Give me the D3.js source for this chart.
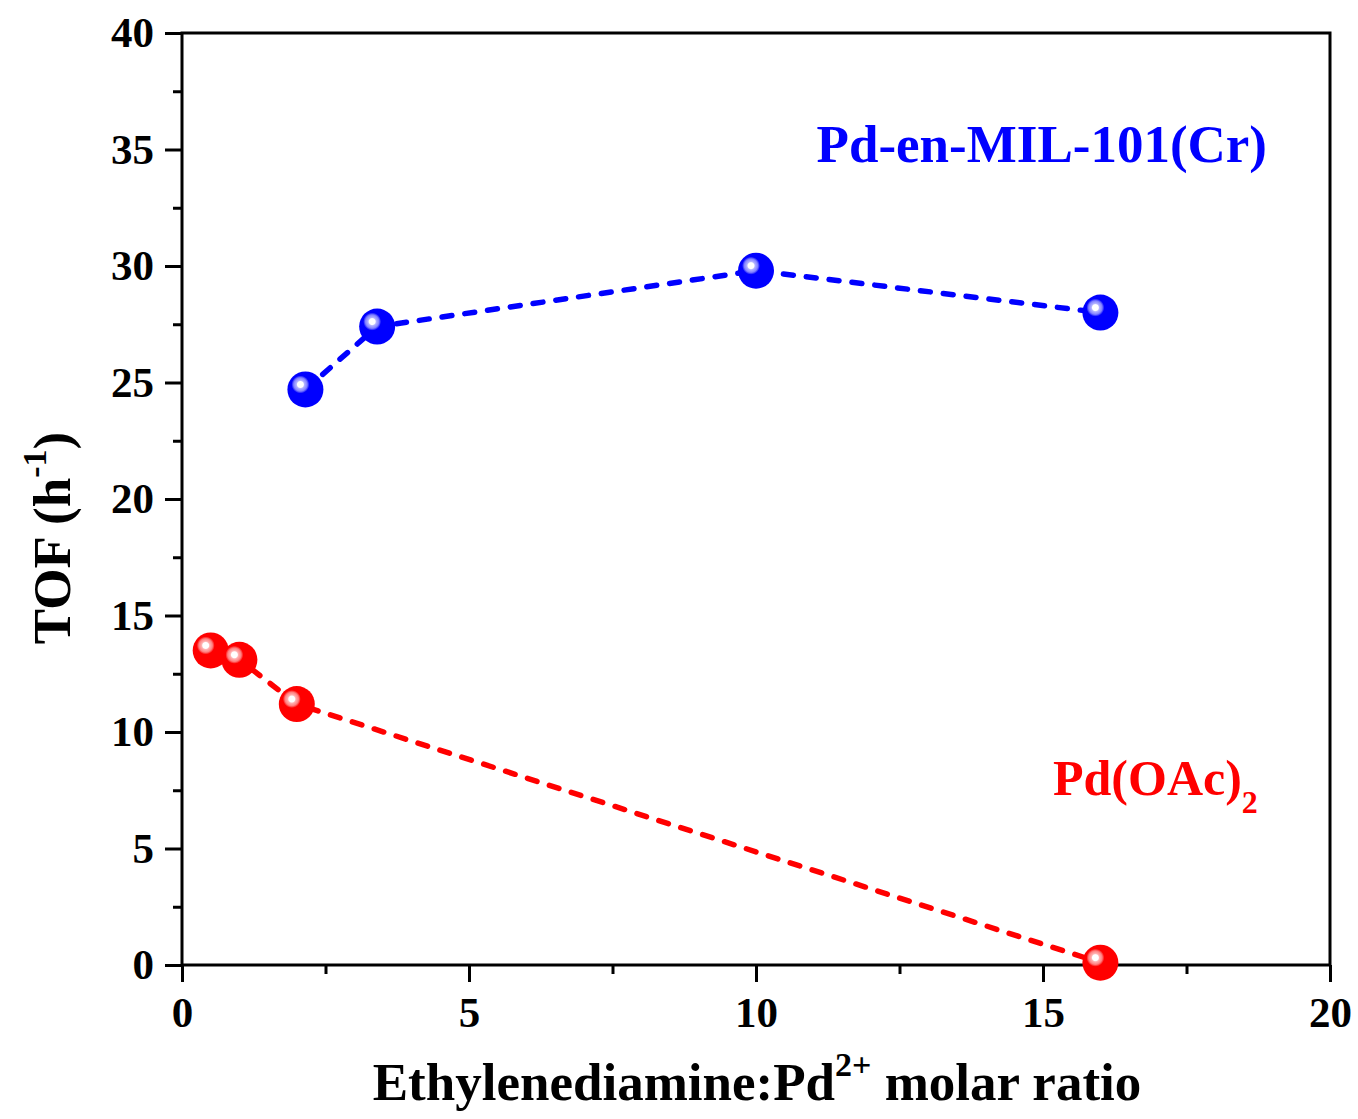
<!DOCTYPE html>
<html>
<head>
<meta charset="utf-8">
<script src="https://cdn.jsdelivr.net/npm/d3@7.9.0/dist/d3.min.js"></script>
<style>
  body { margin: 0; background: #fff; }
  svg { display: block; font-family: "Liberation Serif", "Times New Roman", serif; font-weight: bold; }
</style>
</head>
<body>
<svg id="chart" width="1358" height="1119"></svg>
<script>
// data
const blueX = [2.15, 3.4, 10, 16];
const blueY = [24.7, 27.4, 29.8, 28.0];
const redX = [0.5, 1.0, 2.0, 16];
const redY = [13.5, 13.1, 11.2, 0.1];
const xTicks = [0, 5, 10, 15, 20];
const yTicks = [0, 5, 10, 15, 20, 25, 30, 35, 40];

const svg = d3.select('#chart');
const plotL = 182, plotR = 1330, plotT = 33, plotB = 965;

const x = d3.scaleLinear().domain([0, 20]).range([plotL, plotR]);
const y = d3.scaleLinear().domain([0, 40]).range([plotB, plotT]);

// gradients for the highlight spot on each ball
const defs = svg.append('defs');
function spotGradient(id, color) {
  let g = defs.append('radialGradient').attr('id', id);
  g.append('stop').attr('offset', '0%').attr('stop-color', '#fff');
  g.append('stop').attr('offset', '33%').attr('stop-color', '#fff');
  g.append('stop').attr('offset', '45%').attr('stop-color', d3.interpolateRgb('#fff', color)(0.3));
  g.append('stop').attr('offset', '75%').attr('stop-color', d3.interpolateRgb('#fff', color)(0.5));
  g.append('stop').attr('offset', '100%').attr('stop-color', color);
}
spotGradient('gBlue', '#0000ff');
spotGradient('gRed', '#ff0000');

// axes
const xAxis = d3.axisBottom(x).tickValues(xTicks).tickSize(17).tickPadding(14).tickFormat(d3.format('d'));
const xMinor = d3.axisBottom(x).tickValues(d3.range(2.5, 20, 5)).tickSize(9).tickFormat('');
const yAxis = d3.axisLeft(y).tickValues(yTicks).tickSize(17).tickPadding(11).tickFormat(d3.format('d'));
const yMinor = d3.axisLeft(y).tickValues(d3.range(2.5, 40, 5)).tickSize(9).tickFormat('');

function styleAxis(g) {
  g.select('.domain').remove();
  g.selectAll('line').attr('stroke', '#000').attr('stroke-width', 3);
  g.selectAll('text').attr('fill', '#000').style('font-size', '43px').style('font-weight', 'bold')
    .style('font-family', '"Liberation Serif", serif');
}

svg.append('g').attr('transform', `translate(0,${plotB})`).call(xAxis).call(styleAxis);
svg.append('g').attr('transform', `translate(0,${plotB})`).call(xMinor).call(styleAxis);
svg.append('g').attr('transform', `translate(${plotL},0)`).call(yAxis).call(styleAxis);
svg.append('g').attr('transform', `translate(${plotL},0)`).call(yMinor).call(styleAxis);

// frame
svg.append('rect')
  .attr('x', plotL).attr('y', plotT)
  .attr('width', plotR - plotL).attr('height', plotB - plotT)
  .attr('fill', 'none').attr('stroke', '#000').attr('stroke-width', 3);

// series
const line = d3.line().x((d) => x(d[0])).y((d) => y(d[1]));

function drawSeries(xs, ys, color, grad) {
  let pts = xs.map((v, i) => [v, ys[i]]);
  svg.append('path')
    .attr('d', line(pts))
    .attr('fill', 'none')
    .attr('stroke', color)
    .attr('stroke-width', 5.5)
    .attr('stroke-linecap', 'round')
    .attr('stroke-dasharray', '10 13');
  let balls = svg.append('g').selectAll('g').data(pts).join('g');
  balls.append('circle')
    .attr('cx', (d) => x(d[0]))
    .attr('cy', (d) => y(d[1]))
    .attr('r', 18)
    .attr('fill', color);
  balls.append('circle')
    .attr('cx', (d) => x(d[0]) - 5)
    .attr('cy', (d) => y(d[1]) - 5)
    .attr('r', 9)
    .attr('fill', `url(#${grad})`);
}
drawSeries(blueX, blueY, '#0000ff', 'gBlue');
drawSeries(redX, redY, '#ff0000', 'gRed');

// labels
svg.append('text')
  .attr('x', 1267).attr('y', 162)
  .attr('text-anchor', 'end')
  .attr('fill', '#0000ff')
  .style('font-size', '53px')
  .text('Pd-en-MIL-101(Cr)');

const pdLabel = svg.append('text')
  .attr('x', 1053).attr('y', 795)
  .attr('fill', '#ff0000')
  .style('font-size', '50px');
pdLabel.append('tspan').text('Pd(OAc)');
pdLabel.append('tspan').attr('dy', 18).style('font-size', '32px').text('2');

// axis titles
const xt = svg.append('text')
  .attr('x', 757).attr('y', 1100)
  .attr('text-anchor', 'middle')
  .attr('fill', '#000')
  .style('font-size', '53px');
xt.append('tspan').text('Ethylenediamine:Pd');
xt.append('tspan').attr('dy', -24).style('font-size', '34px').text('2+');
xt.append('tspan').attr('dy', 24).text(' molar ratio');

const yt = svg.append('text')
  .attr('transform', 'translate(70,538) rotate(-90)')
  .attr('text-anchor', 'middle')
  .attr('fill', '#000')
  .style('font-size', '53px');
yt.append('tspan').text('TOF (h');
yt.append('tspan').attr('dy', -24).style('font-size', '34px').text('-1');
yt.append('tspan').attr('dy', 24).text(')');
</script>
</body>
</html>
